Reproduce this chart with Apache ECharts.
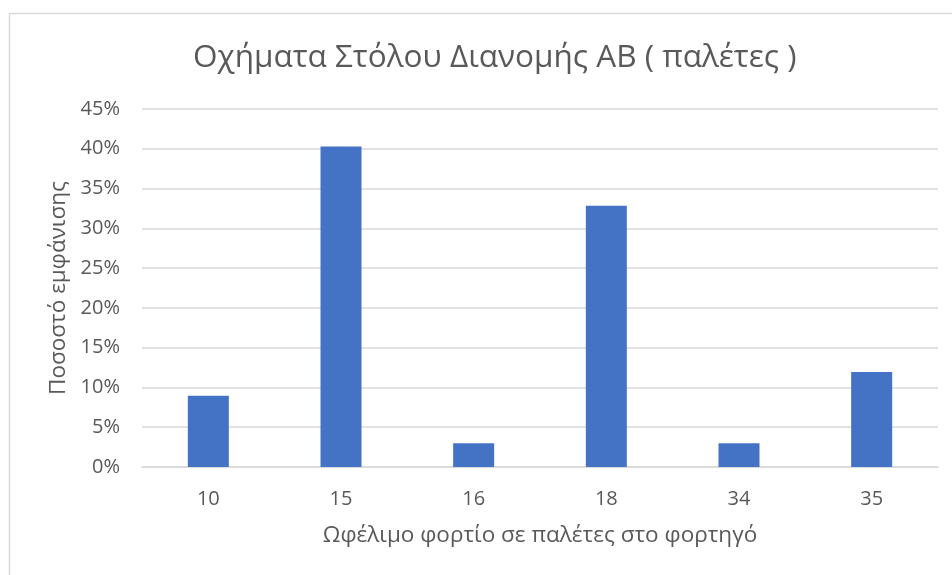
<!DOCTYPE html>
<html>
<head>
<meta charset="utf-8">
<script src="https://cdn.jsdelivr.net/npm/echarts@6/dist/echarts.min.js"></script>
<style>
  html, body { margin: 0; padding: 0; background: #fff; }
  #chart { width: 952px; height: 575px; }
</style>
</head>
<body>
<div id="chart"></div>
<script>
// Payload capacity (pallets) and share of fleet vehicles
const categories = ['10', '15', '16', '18', '34', '35'];
const shares = [0.0896, 0.4030, 0.0299, 0.3284, 0.0299, 0.1194];
const titleText = 'Οχήματα Στόλου Διανομής ΑΒ ( παλέτες )';
const xAxisName = 'Ωφέλιμο φορτίο σε παλέτες στο φορτηγό';
const yAxisName = 'Ποσοστό εμφάνισης';

const FONT = '"Open Sans", "Noto Sans", sans-serif';
const TEXT = '#595959';

const chart = echarts.init(document.getElementById('chart'), null, { renderer: 'canvas' });
chart.setOption({
  animation: false,
  backgroundColor: '#ffffff',
  graphic: [{
    type: 'rect',
    shape: { x: 9.5, y: 13.5, width: 1000, height: 700 },
    style: { fill: 'none', stroke: '#d9d9d9', lineWidth: 1.5 },
    silent: true
  }],
  title: {
    text: titleText,
    left: 188,
    top: 37,
    textStyle: { fontFamily: FONT, fontSize: 31.5, fontWeight: 'normal', color: TEXT }
  },
  grid: { left: 142, right: 14, top: 109, bottom: 108, containLabel: false },
  xAxis: {
    type: 'category',
    data: categories,
    name: xAxisName,
    nameLocation: 'middle',
    nameGap: 57,
    nameTextStyle: { fontFamily: FONT, fontSize: 22.5, color: TEXT },
    axisLine: { show: true, lineStyle: { color: '#d9d9d9', width: 1.5 } },
    axisTick: { show: false },
    axisLabel: { fontFamily: FONT, fontSize: 20, color: TEXT, margin: 22 }
  },
  yAxis: {
    type: 'value',
    min: 0,
    max: 0.45,
    interval: 0.05,
    name: yAxisName,
    nameLocation: 'middle',
    nameGap: 50,
    nameTextStyle: { fontFamily: FONT, fontSize: 22.5, color: TEXT },
    axisLine: { show: false },
    axisTick: { show: false },
    axisLabel: {
      fontFamily: FONT, fontSize: 20, color: TEXT, margin: 22,
      formatter: v => Math.round(v * 100) + '%'
    },
    splitLine: { lineStyle: { color: '#d9d9d9', width: 1.5 } }
  },
  series: [{
    type: 'bar',
    data: shares,
    barWidth: 41,
    itemStyle: { color: '#4472C4' }
  }]
});
</script>
</body>
</html>
